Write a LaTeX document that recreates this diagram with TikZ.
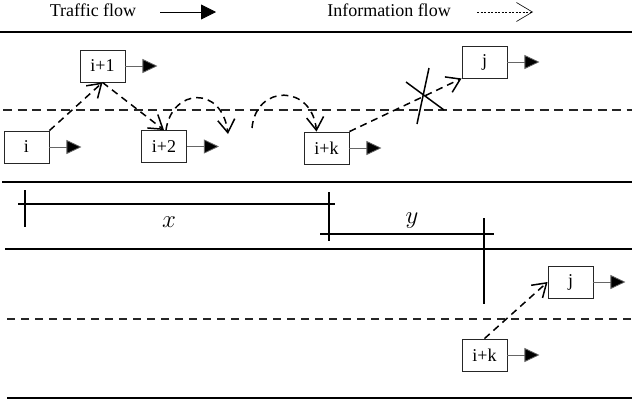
\documentclass[tikz,border=0pt]{standalone}
\usepackage{fontspec}
\setmainfont{Liberation Serif}
\usetikzlibrary{arrows.meta}
\begin{document}
\begin{tikzpicture}[x=1pt,y=-1pt,
  every node/.style={font=\fontsize{18}{21}\selectfont},
  car/.style={draw=black!85, line width=0.9pt, minimum width=45pt, minimum height=32pt, inner sep=0pt},
  traffic/.style={draw=black!60, line width=0.8pt, -{Triangle[length=15pt,width=14pt,fill=black]}},
  infoflow/.style={line width=1.5pt, dash pattern=on 7pt off 5pt, -{Straight Barb[length=13pt,width=17pt]}},
  road/.style={line width=2pt},
  lane/.style={line width=2pt, black!85, dash pattern=on 9pt off 5.5pt},
  lanelow/.style={line width=2pt, black!85, dash pattern=on 8pt off 6pt},
  dimline/.style={line width=1.5pt},
  crossline/.style={line width=1.5pt}]
\useasboundingbox (0,0) rectangle (632,405);

% legend
\node[anchor=base] (lt) at (93,16) {Traffic flow};
\coordinate (lta) at (160,12);
\coordinate (ltb) at (216,12);
\draw[line width=0.8pt, -{Triangle[length=15pt,width=15pt]}] (lta) -- (ltb);
\node[anchor=base] (li) at (389,16) {Information flow};
\coordinate (lia) at (477,12);
\coordinate (lib) at (533,12);
\draw[line width=0.6pt, dash pattern=on 2pt off 1.5pt, -{Straight Barb[length=16pt,width=19pt,line width=0.6pt]}] (lia) -- (lib);

% road lines
\draw[road] (0,32) -- (632,32);
\draw[lane] (3,110) -- (632,110);
\draw[road] (2,182) -- (632,182);
\draw[road] (5,249) -- (632,249);
\draw[lanelow] (7,319) -- (632,319);
\draw[road] (7,398) -- (632,398);

% upper section vehicles
\node[car] (i)   at (26.5,147) {i};
\node[car] (i1)  at (102.5,66) {i+1};
\node[car] (i2)  at (164,146.5) {i+2};
\node[car] (ik)  at (326.5,148) {i+k};
\node[car] (j)   at (484.5,62) {j};

\foreach \n in {i,i1,i2,ik,j}{
  \draw[traffic] (\n.east) -- ++(32,0);
}

% information flow upper
\draw[infoflow] (i.north east) -- (i1.south);
\draw[infoflow] (i1.south) -- (i2.north);
\coordinate (h1) at (228,134);
\coordinate (h2) at (252,128);
\draw[infoflow] ([xshift=2pt]i2.north) .. controls (172,88) and (222,85) .. (h1);
\draw[infoflow] (h2) .. controls (256,84) and (312,84) .. ([xshift=-10pt]ik.north);
\draw[infoflow] (ik.north east) -- (j.south west);

% cross
\draw[crossline] (406,82) -- (444,110);
\draw[crossline] (429,68) -- (417,124);

% dimensions
\draw[dimline] (18,204) -- (335,204);
\draw[dimline] (25,190) -- (25,227);
\draw[dimline] (329,192) -- (329,241);
\node[anchor=base, font=\fontsize{24}{28}\selectfont] (xl) at (169,227) {$x$};
\draw[dimline] (320,234) -- (494,234);
\draw[dimline] (484,218) -- (484,304);
\node[anchor=base, font=\fontsize{24}{28}\selectfont] (yl) at (412,223) {$y$};

% lower section vehicles
\node[car] (lj)  at (570.5,282) {j};
\node[car] (lik) at (484.5,355) {i+k};
\draw[traffic] (lj.east) -- ++(32,0);
\draw[traffic] (lik.east) -- ++(32,0);
\draw[infoflow] (lik.north) -- (lj.west);
\end{tikzpicture}
\end{document}
